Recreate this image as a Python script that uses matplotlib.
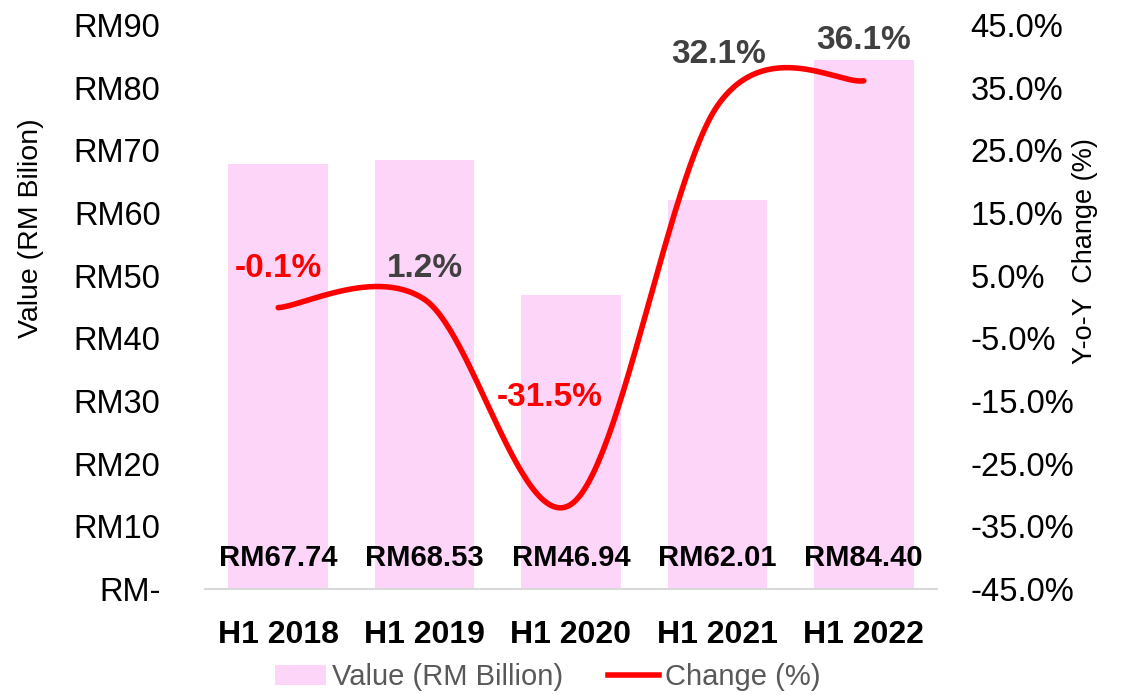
import numpy as np
import matplotlib.pyplot as plt
from matplotlib.patches import Patch
from matplotlib.lines import Line2D

categories = ["H1 2018", "H1 2019", "H1 2020", "H1 2021", "H1 2022"]
values = [67.74, 68.53, 46.94, 62.01, 84.40]
changes = [-0.1, 1.2, -31.5, 32.1, 36.1]
value_ticks = [0, 10, 20, 30, 40, 50, 60, 70, 80, 90]
change_ticks = [-45, -35, -25, -15, -5, 5, 15, 25, 35, 45]

bar_color = "#FCD5F9"
line_color = "#FF0000"
gray_text = "#404040"
W, H = 1127, 695

plt.rcParams['font.family'] = ['Liberation Sans', 'DejaVu Sans']


def smooth(xs, ys, n=60):
    # Excel-like smoothed line: cubic bezier through each point
    xs = np.asarray(xs, float)
    ys = np.asarray(ys, float)
    px, py = [], []
    k = len(xs)
    for i in range(k - 1):
        x0, y0 = xs[i], ys[i]
        x3, y3 = xs[i + 1], ys[i + 1]
        xp, yp = (xs[i - 1], ys[i - 1]) if i > 0 else (x0, y0)
        xn, yn = (xs[i + 2], ys[i + 2]) if i + 2 < k else (x3, y3)
        x1 = x0 + (x3 - xp) / 6
        y1 = y0 + (y3 - yp) / 6
        x2 = x3 - (xn - x0) / 6
        y2 = y3 - (yn - y0) / 6
        t = np.linspace(0, 1, n)
        px.extend((1 - t) ** 3 * x0 + 3 * (1 - t) ** 2 * t * x1 + 3 * (1 - t) * t ** 2 * x2 + t ** 3 * x3)
        py.extend((1 - t) ** 3 * y0 + 3 * (1 - t) ** 2 * t * y1 + 3 * (1 - t) * t ** 2 * y2 + t ** 3 * y3)
    return np.array(px), np.array(py)


fig = plt.figure(figsize=(W / 100, H / 100), dpi=100)
left, right, top, bottom = 205, 937, 25, 589
ax = fig.add_axes([left / W, 1 - bottom / H, (right - left) / W, (bottom - top) / H])

x = np.arange(len(categories))
ax.bar(x, values, width=0.68, color=bar_color, zorder=1)
ax.set_xlim(-0.5, len(categories) - 0.5)
ax.set_ylim(0, 90)
ax.set_yticks(value_ticks)
ax.set_yticklabels(["RM-" if v == 0 else f"RM{v}" for v in value_ticks])
ax.tick_params(axis='y', length=0, pad=32, labelsize=23.5)
ax.set_xticks(x)
ax.set_xticklabels(categories, fontsize=23, fontweight='bold')
ax.tick_params(axis='x', length=0, pad=22)
for s in ['top', 'left', 'right']:
    ax.spines[s].set_visible(False)
ax.spines['bottom'].set_color('#D9D9D9')
ax.spines['bottom'].set_linewidth(1.5)
ax.set_ylabel("Value (RM Bilion)", fontsize=20.5)
ax.yaxis.set_label_coords((31 - left) / (right - left), (bottom - 228) / (bottom - top))
ax.yaxis.label.set_va('center')

for xi, v in zip(x, values):
    ax.text(xi, 5, f"RM{v:.2f}", ha='center', va='center', fontsize=21,
            fontweight='bold', color='black', zorder=3)

ax2 = ax.twinx()
ax2.set_ylim(-45, 45)
ax2.set_yticks(change_ticks)
ax2.set_yticklabels([f"{v:.1f}%" for v in change_ticks])
ax2.tick_params(axis='y', length=0, pad=24, labelsize=23.5)
for s in ['top', 'left', 'right', 'bottom']:
    ax2.spines[s].set_visible(False)
ax2.set_ylabel("Y-o-Y  Change (%)", fontsize=19.5)
ax2.yaxis.set_label_coords((1085 - left) / (right - left), (bottom - 251) / (bottom - top))
ax2.yaxis.label.set_va('center')

sx, sy = smooth(x, changes)
ax2.plot(sx, sy, color=line_color, lw=4, solid_capstyle='round', zorder=2)

# label offsets in points (dx, dy) relative to each point
offsets = [(0, 28), (0, 22), (-15, 77), (1, 37), (0, 29)]
for xi, c, (dx, dy) in zip(x, changes, offsets):
    col = line_color if c < 0 else gray_text
    ax2.annotate(f"{c:.1f}%", (xi, c), xytext=(dx, dy), textcoords='offset points',
                 ha='center', va='center', fontsize=24, fontweight='bold', color=col)

handles = [Patch(facecolor=bar_color, edgecolor='none', label="Value (RM Billion)"),
           Line2D([0], [0], color=line_color, lw=4, label="Change (%)")]
leg = fig.legend(handles=handles, loc='center', bbox_to_anchor=(548 / W, 1 - 677 / H), ncol=2,
                 frameon=False, fontsize=21, handlelength=1.75, handletextpad=0.2,
                 columnspacing=1.55, borderpad=0)
for t in leg.get_texts():
    t.set_color('#595959')

fig.savefig("out.png", dpi=100)
